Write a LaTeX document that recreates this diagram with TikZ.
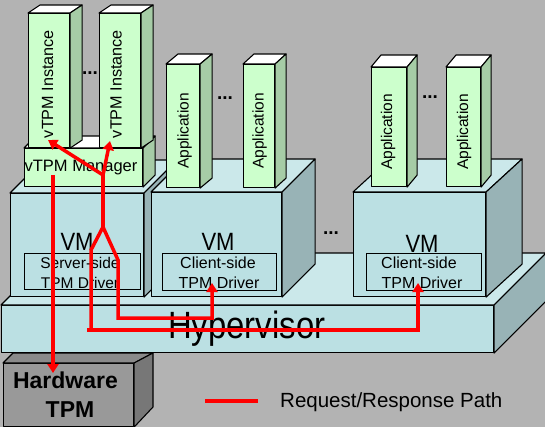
\documentclass[tikz,border=0pt]{standalone}
\usepackage{fontspec}
\setmainfont{Liberation Sans}
\usetikzlibrary{arrows.meta}
\definecolor{cbg}{HTML}{B3B3B3}
\definecolor{cgrf}{HTML}{CCFFCC}
\definecolor{cgrs}{HTML}{A6CCA6}
\definecolor{cvmf}{HTML}{BBE0E3}
\definecolor{cvmt}{HTML}{CBE8EA}
\definecolor{cvms}{HTML}{98B3B6}
\definecolor{chwf}{HTML}{999999}
\definecolor{chwt}{HTML}{8A8A8A}
\definecolor{chws}{HTML}{777777}
\newcommand{\myfs}[1]{\fontsize{#1}{#1}\selectfont}
\tikzset{
  cubeface/.style={draw=black, line width=1.1pt, line join=round},
  greenfront/.style={fill=cgrf}, greentop/.style={fill=white}, greenside/.style={fill=cgrs},
  vmfront/.style={fill=cvmf}, vmtop/.style={fill=cvmt}, vmside/.style={fill=cvms},
  hwfront/.style={fill=chwf}, hwtop/.style={fill=chwt}, hwside/.style={fill=chws},
  driverbox/.style={draw=black, line width=1.2pt, inner sep=0pt, anchor=north west},
  lbl/.style={inner sep=0pt, text=black},
  dots/.style={inner sep=0pt, anchor=base, font=\myfs{19}\bfseries},
  redpath/.style={draw=red, line width=3.5pt},
  redarrow/.style={redpath, -{Triangle[length=9pt,width=11pt]}},
}
% name, x1, y1, x2, y2, dx, dy, kind
\newcommand{\mycube}[8]{%
  \node[cubeface, #8front, inner sep=0pt, anchor=north west,
        minimum width={(#4-#2)*1pt}, minimum height={(#5-#3)*1pt}] (#1) at (#2,#3) {};
  \draw[cubeface, #8top] (#1.north west) -- ++(#6,#7) -- ([shift={(#6,#7)}]#1.north east) -- (#1.north east) -- cycle;
  \draw[cubeface, #8side] (#1.north east) -- ++(#6,#7) -- ([shift={(#6,#7)}]#1.south east) -- (#1.south east) -- cycle;
}
\begin{document}
\begin{tikzpicture}[x=1pt,y=-1pt]
\useasboundingbox (0,0) rectangle (545,427);
\clip (0,0) rectangle (545,427);
\fill[cbg] (0,0) rectangle (545,427);

% Hardware TPM
\node[cubeface, hwfront, inner sep=0pt, anchor=north west, minimum width=130pt, minimum height=63pt] (hw) at (3,363) {};
\draw[cubeface, hwtop] (hw.north west) -- (13,353) -- (153,353) -- (hw.north east) -- cycle;
\draw[cubeface, hwside] (hw.north east) -- (153,353) -- (153,407) -- (hw.south east) -- cycle;
\node[lbl, anchor=base, font=\myfs{23}\bfseries] (hwt1) at (65.5,388) {Hardware};
\node[lbl, anchor=base, font=\myfs{23}\bfseries] (hwt2) at (70,417) {TPM};

% Hypervisor
\mycube{hyp}{1}{305}{493}{352}{52}{-52}{vm}
\node[lbl, anchor=base west, font=\myfs{38}] (hyptext) at (168,338) {\scalebox{0.865}[1]{Hypervisor}};

% VMs
\mycube{vma}{10}{193}{143}{296}{33}{-33}{vm}
\mycube{vmb}{151}{192}{281}{296}{33}{-33}{vm}
\mycube{vmc}{353}{192}{485}{296}{36}{-33}{vm}
\node[lbl, anchor=base, font=\myfs{25}] (vmat) at (77,251) {\scalebox{0.88}[1]{VM}};
\node[lbl, anchor=base, font=\myfs{25}] (vmbt) at (218,251) {\scalebox{0.88}[1]{VM}};
\node[lbl, anchor=base, font=\myfs{25}] (vmct) at (422,252) {\scalebox{0.88}[1]{VM}};

% drivers
\node[driverbox, minimum width=116pt, minimum height=36pt] (drva) at (24,253) {};
\node[driverbox, minimum width=114pt, minimum height=37pt] (drvb) at (162,253) {};
\node[driverbox, minimum width=115pt, minimum height=37pt] (drvc) at (366,253) {};
\node[lbl, anchor=base, font=\myfs{15.5}] (drvat1) at (80,268) {Server-side};
\node[lbl, anchor=base, font=\myfs{15.5}] (drvat2) at (80,288) {TPM Driver};
\node[lbl, anchor=base, font=\myfs{16}] (drvbt1) at (218,268) {Client-side};
\node[lbl, anchor=base, font=\myfs{16}] (drvbt2) at (219,288) {TPM Driver};
\node[lbl, anchor=base, font=\myfs{16}] (drvct1) at (419,268) {Client-side};
\node[lbl, anchor=base, font=\myfs{16}] (drvct2) at (422,288) {TPM Driver};

% vTPM manager and instances
\mycube{mgr}{24}{148}{142}{186}{12}{-12}{green}
\mycube{insta}{28}{13}{69}{147}{12}{-8}{green}
\mycube{instb}{99}{13}{140}{147}{12}{-8}{green}
\node[lbl, anchor=base, font=\myfs{16.5}] (mgrt) at (81,172) {vTPM Manager};
\node[lbl, anchor=base, rotate=90, font=\myfs{16.2}] (instat) at (53,84) {vTPM Instance};
\node[lbl, anchor=base, rotate=90, font=\myfs{16.2}] (instbt) at (121.5,84) {vTPM Instance};
\node[dots] (dotsi) at (90,75) {...};

% applications
\mycube{appa}{166}{64}{199}{187}{12}{-10}{green}
\mycube{appb}{243}{64}{274}{187}{11}{-10}{green}
\mycube{appc}{371}{67}{406}{186}{10}{-12}{green}
\mycube{appd}{446}{67}{480}{186}{10}{-12}{green}
\node[lbl, anchor=base, rotate=90, font=\myfs{15.5}] (appat) at (188.5,131) {Application};
\node[lbl, anchor=base, rotate=90, font=\myfs{15.5}] (appbt) at (263.5,131) {Application};
\node[lbl, anchor=base, rotate=90, font=\myfs{15.5}] (appct) at (392,132) {Application};
\node[lbl, anchor=base, rotate=90, font=\myfs{15.5}] (appdt) at (468,132) {Application};
\node[dots] (dotsa) at (225,100) {...};
\node[dots] (dotsb) at (430,99) {...};
\node[dots] (dotsv) at (331,235) {...};

% request/response paths
\coordinate (mgrA) at (53,175);
\coordinate (hwtip) at (53,373);
\coordinate (fork) at (103,175);
\coordinate (split) at (103,227);
\coordinate (i1tip) at (48,140);
\coordinate (i2tip) at (110,141);
\coordinate (lb) at (91,250);
\coordinate (lbb) at (91,330);
\coordinate (rb) at (118,260);
\coordinate (rbb) at (118,318);
\coordinate (c2c) at (212,318);
\coordinate (c2tip) at (212,283);
\coordinate (hstart) at (87,330);
\coordinate (c3c) at (418,330);
\coordinate (c3tip) at (418,283);
\draw[redarrow] (mgrA) -- (hwtip);
\draw[redpath] (split) -- (fork);
\draw[redarrow] (fork) -- (i1tip);
\draw[redarrow] (fork) -- (i2tip);
\draw[redarrow] (lbb) -- (lb) -- (split) -- (rb) -- (rbb) -- (c2c) -- (c2tip);
\draw[redarrow] (hstart) -- (c3c) -- (c3tip);

% legend
\coordinate (lgA) at (205,401);
\coordinate (lgB) at (258,401);
\draw[redpath] (lgA) -- (lgB);
\node[lbl, anchor=base west, font=\myfs{20.5}] (lgt) at (280,407) {Request/Response Path};
\end{tikzpicture}
\end{document}
